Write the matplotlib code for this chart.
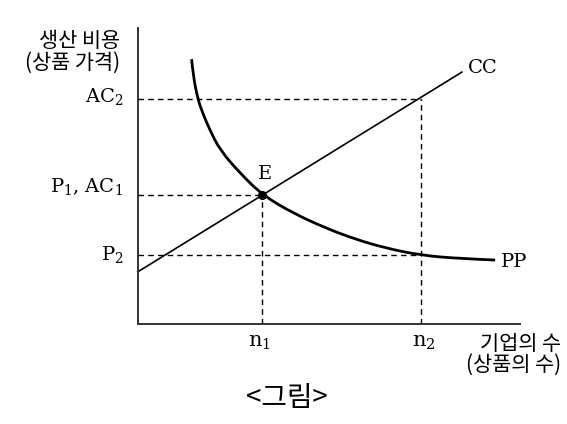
import numpy as np
import matplotlib
matplotlib.use("Agg")
import matplotlib.pyplot as plt
from matplotlib.path import Path
from matplotlib.patches import PathPatch

plt.rcParams['mathtext.fontset'] = 'dejavuserif'

# ---------- data (axis units 0..100) ----------
n1, n2 = 32.6, 74.1
P1_AC1, P2, AC2 = 43.6, 23.2, 76.0

# CC line: straight, from y-axis to its end
cc_x = [0.0, 84.8]
cc_y = [17.6, 85.1]

# PP curve, points
pp_x = [14.1, 14.5, 15.7, 17.2, 18.9, 21.5, 26.8, 32.6, 40.7, 49.4, 56.8, 64.7, 74.1, 84.3, 93.5]
pp_y = [89.5, 84.1, 76.0, 70.6, 65.5, 58.8, 50.9, 43.6, 37.4, 32.3, 28.7, 25.7, 23.2, 22.1, 21.6]

serif = 'DejaVu Serif'
kor = ['Noto Sans CJK KR', 'DejaVu Sans']

fig = plt.figure(figsize=(5.67, 4.24), dpi=100)
ax = fig.add_axes([137.7 / 567, 100 / 424, 382.3 / 567, 296 / 424])
ax.set_xlim(0, 100)
ax.set_ylim(0, 100)
for s in ['top', 'right']:
    ax.spines[s].set_visible(False)
for s in ['left', 'bottom']:
    ax.spines[s].set_linewidth(1.4)
    ax.spines[s].set_color('#333333')
ax.set_xticks([])
ax.set_yticks([])

dash = dict(color='black', lw=1.0, ls=(0, (4, 3)), clip_on=False)
# horizontal guides
ax.plot([0, n2], [AC2, AC2], **dash)
ax.plot([0, n1], [P1_AC1, P1_AC1], **dash)
ax.plot([0, n2], [P2, P2], **dash)
# vertical guides
ax.plot([n1, n1], [0, P1_AC1], **dash)
ax.plot([n2, n2], [0, AC2], **dash)

# CC line
ax.plot(cc_x, cc_y, color='black', lw=1.2, clip_on=False)

# PP curve: smooth quadratic path through the read points
pts = list(zip(pp_x, pp_y))
verts = [pts[0]]
codes = [Path.MOVETO]
for i in range(1, len(pts) - 1):
    if i == len(pts) - 2:
        end = pts[-1]
    else:
        end = ((pts[i][0] + pts[i + 1][0]) / 2, (pts[i][1] + pts[i + 1][1]) / 2)
    verts += [pts[i], end]
    codes += [Path.CURVE3, Path.CURVE3]
ax.add_patch(PathPatch(Path(verts, codes), fill=False, lw=2.0, color='black',
                       clip_on=False, capstyle='butt'))

ax.plot([n1], [P1_AC1], 'o', color='black', ms=5.5, zorder=5)

# labels
ax.text(-3.8, 77.0, r'AC$_2$', family=serif, fontsize=14, ha='right', va='center')
ax.text(-3.8, 46.6, r'P$_1$, AC$_1$', family=serif, fontsize=14, ha='right', va='center')
ax.text(-3.8, 23.6, r'P$_2$', family=serif, fontsize=14, ha='right', va='center')
ax.text(n1 - 0.9, -3.0, r'n$_1$', family=serif, fontsize=15, ha='center', va='top')
ax.text(n2 + 0.8, -3.0, r'n$_2$', family=serif, fontsize=15, ha='center', va='top')
ax.text(86.4, 86.5, 'CC', family=serif, fontsize=14, ha='left', va='center')
ax.text(94.9, 21.0, 'PP', family=serif, fontsize=14, ha='left', va='center')
ax.text(33.2, 50.8, 'E', family=serif, fontsize=14, ha='center', va='center')

ax.text(-4.6, 99.3, '생산 비용\n(상품 가격)', family=kor, fontsize=15,
        ha='right', va='top', multialignment='right', linespacing=1.0)
ax.text(110.7, -3.0, '기업의 수\n(상품의 수)', family=kor, fontsize=15,
        ha='right', va='top', multialignment='right', linespacing=0.95)

fig.text(287 / 567, 1 - 398 / 424, '<그림>', family=kor, fontsize=20, ha='center', va='center')

fig.savefig('out.png', dpi=100)
